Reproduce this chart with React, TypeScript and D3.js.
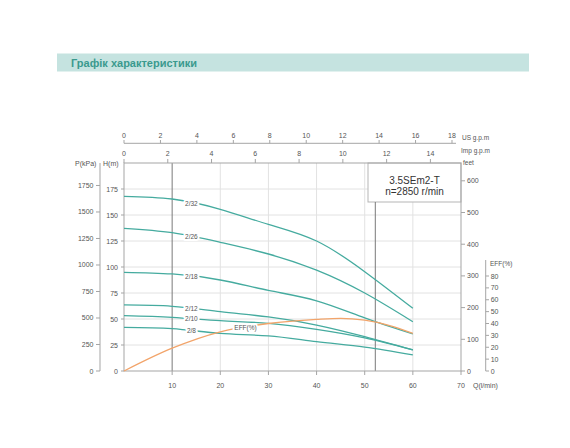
import React from "react";
import * as d3 from "d3";

const Q = [0, 10, 20, 30, 40, 50, 60];
const H_2_32 = [168, 165.4, 155.5, 141, 125, 95.5, 60.3];
const H_2_26 = [137.2, 133, 123.7, 112.5, 97, 75, 47.4];
const H_2_18 = [94.9, 93.3, 87.5, 77.5, 67.5, 51, 35.6];
const H_2_12 = [63.5, 62.2, 57, 52, 44.2, 33, 20.2];
const H_2_10 = [53.2, 51.6, 48.4, 45.8, 40, 31.8, 20.2];
const H_2_8 = [42, 40.7, 36.2, 33.7, 28.2, 23, 15.4];
const SERIES_NAMES = ["2/32", "2/26", "2/18", "2/12", "2/10", "2/8"];
const SERIES = [H_2_32, H_2_26, H_2_18, H_2_12, H_2_10, H_2_8];

const EFF_Q = [0, 10, 20, 30, 40, 45, 50, 55, 60];
const EFF = [0, 19.2, 33, 40, 43.5, 44.4, 42.8, 38.5, 31.7];

const P_TICKS = [0, 250, 500, 750, 1000, 1250, 1500, 1750];
const H_TICKS = [0, 25, 50, 75, 100, 125, 150, 175];
const FEET_TICKS = [0, 100, 200, 300, 400, 500, 600];
const EFF_TICKS = [0, 10, 20, 30, 40, 50, 60, 70, 80];
const Q_TICKS = [10, 20, 30, 40, 50, 60, 70];
const US_TICKS = [0, 2, 4, 6, 8, 10, 12, 14, 16, 18];
const IMP_TICKS = [0, 2, 4, 6, 8, 10, 12, 14];
const OPERATING_RANGE = [10, 52.2];
const LABEL_Q = 14;

const TITLE = "Графік характеристики";
const MODEL = "3.5SEm2-T";
const SPEED = "n=2850 r/min";

const TEAL = "#45ab9f";
const ORANGE = "#f2a46a";
const TXT = "#555";
const FONT = "Liberation Sans, Arial, sans-serif";

export default function App() {
  const left = 124, right = 461, top = 163, bottom = 371;
  const x = d3.scaleLinear().domain([0, 70]).range([left, right]);
  const yH = d3.scaleLinear().domain([0, 200]).range([bottom, top]);
  const yP = d3.scaleLinear().domain([0, 200 * 9.81]).range([bottom, top]);
  const yF = d3.scaleLinear().domain([0, 200 / 0.3048]).range([bottom, top]);
  const yE = d3.scaleLinear().domain([0, 80]).range([bottom, 276]);
  const xUS = d3.scaleLinear().domain([0, 70 / 3.785]).range([left, right]);
  const xImp = d3.scaleLinear().domain([0, 70 / 4.546]).range([left, right]);

  const line = d3
    .line<number>()
    .x((_, i) => x(Q[i]))
    .y((d) => yH(d))
    .curve(d3.curveNatural);
  const effLine = d3
    .line<number>()
    .x((_, i) => x(EFF_Q[i]))
    .y((d) => yE(d))
    .curve(d3.curveMonotoneX);

  const interp = (arr: number[], q: number) => {
    const i = d3.bisectRight(Q, q) - 1;
    const t = (q - Q[i]) / (Q[i + 1] - Q[i]);
    return arr[i] + (arr[i + 1] - arr[i]) * t;
  };

  const halo = { paintOrder: "stroke", stroke: "#fff", strokeWidth: 4, strokeLinejoin: "round" } as any;

  return (
    <svg width={570} height={448} style={{ position: "absolute", left: 0, top: 0, background: "#fff" }} fontFamily={FONT}>
      {/* title */}
      <rect x={57} y={53.5} width={472} height={18} fill="#c5e3e0" />
      <text x={71} y={66.5} fontSize={11} fontWeight="bold" fill="#3a9a8e">{TITLE}</text>

      {/* grid */}
      {H_TICKS.filter((t) => t > 0).map((t) => (
        <line key={"hg" + t} x1={left} x2={right} y1={yH(t)} y2={yH(t)} stroke="#e2e2e2" />
      ))}
      {[20, 30, 40, 50, 60].map((t) => (
        <line key={"vg" + t} x1={x(t)} x2={x(t)} y1={top} y2={bottom} stroke="#e2e2e2" />
      ))}

      {/* legend box */}
      <rect x={368} y={top} width={right - 368} height={39} fill="#fff" stroke="#b5b5b5" />
      <text x={414.5} y={183.5} fontSize={10} fill="#333" textAnchor="middle">{MODEL}</text>
      <text x={414.5} y={195} fontSize={10} fill="#333" textAnchor="middle">{SPEED}</text>

      {/* operating range lines */}
      <line x1={x(OPERATING_RANGE[0])} x2={x(OPERATING_RANGE[0])} y1={top} y2={bottom} stroke="#7a7a7a" />
      <line x1={x(OPERATING_RANGE[1])} x2={x(OPERATING_RANGE[1])} y1={202} y2={bottom} stroke="#7a7a7a" />

      {/* plot border */}
      <rect x={left} y={top} width={right - left} height={bottom - top} fill="none" stroke="#a5a5a5" />

      {/* curves */}
      {SERIES.map((s, i) => (
        <path key={"c" + i} d={line(s) || ""} fill="none" stroke={TEAL} strokeWidth={1.3} />
      ))}
      <path d={effLine(EFF) || ""} fill="none" stroke={ORANGE} strokeWidth={1.3} />

      {SERIES.map((s, i) => (
        <text key={"l" + i} x={x(LABEL_Q)} y={yH(interp(s, LABEL_Q)) + 2.5} fontSize={6.5} fill={TXT} textAnchor="middle" style={halo}>
          {SERIES_NAMES[i]}
        </text>
      ))}
      <text x={245.5} y={330} fontSize={6.5} fill={TXT} textAnchor="middle" style={halo}>EFF(%)</text>

      {/* P axis */}
      <line x1={100} x2={100} y1={top} y2={bottom} stroke="#a5a5a5" />
      {P_TICKS.map((t) => (
        <g key={"p" + t}>
          <line x1={96} x2={100} y1={yP(t)} y2={yP(t)} stroke="#a5a5a5" />
          <text x={93.5} y={yP(t) + 2.5} fontSize={7} fill={TXT} textAnchor="end">{t}</text>
        </g>
      ))}
      <text x={75} y={165.5} fontSize={7} fill={TXT}>P(kPa)</text>
      <text x={103} y={165.5} fontSize={7} fill={TXT}>H(m)</text>

      {/* H axis */}
      {H_TICKS.map((t) => (
        <g key={"h" + t}>
          <line x1={left - 3} x2={left} y1={yH(t)} y2={yH(t)} stroke="#a5a5a5" />
          <text x={118} y={yH(t) + 2.5} fontSize={7} fill={TXT} textAnchor="end">{t}</text>
        </g>
      ))}

      {/* Q axis */}
      {Q_TICKS.map((t) => (
        <g key={"q" + t}>
          <line x1={x(t)} x2={x(t)} y1={bottom} y2={bottom + 4} stroke="#a5a5a5" />
          <text x={x(t)} y={387.5} fontSize={7} fill={TXT} textAnchor="middle">{t}</text>
        </g>
      ))}
      <text x={473} y={387.5} fontSize={7} fill={TXT}>Q(l/min)</text>

      {/* feet axis */}
      {FEET_TICKS.map((t) => (
        <g key={"f" + t}>
          <line x1={right} x2={right + 4} y1={yF(t)} y2={yF(t)} stroke="#a5a5a5" />
          <text x={467} y={yF(t) + 2.5} fontSize={7} fill={TXT}>{t}</text>
        </g>
      ))}
      <text x={463} y={165} fontSize={6.5} fill={TXT}>feet</text>

      {/* EFF axis */}
      <line x1={485.7} x2={485.7} y1={260} y2={bottom} stroke="#a5a5a5" />
      {EFF_TICKS.map((t) => (
        <g key={"e" + t}>
          <line x1={485.7} x2={489} y1={yE(t)} y2={yE(t)} stroke="#a5a5a5" />
          <text x={490.7} y={yE(t) + 2.5} fontSize={7} fill={TXT}>{t}</text>
        </g>
      ))}
      <text x={490} y={266} fontSize={6.5} fill={TXT}>EFF(%)</text>

      {/* US gpm axis */}
      <line x1={left} x2={456} y1={143.3} y2={143.3} stroke="#a5a5a5" />
      {US_TICKS.map((t) => (
        <g key={"us" + t}>
          <line x1={xUS(t)} x2={xUS(t)} y1={140} y2={143.3} stroke="#a5a5a5" />
          <text x={xUS(t)} y={137.5} fontSize={7} fill={TXT} textAnchor="middle">{t}</text>
        </g>
      ))}
      <text x={462} y={140} fontSize={6.5} fill={TXT}>US  g.p.m</text>

      {/* Imp gpm axis */}
      {IMP_TICKS.map((t) => (
        <g key={"imp" + t}>
          <line x1={xImp(t)} x2={xImp(t)} y1={159} y2={top} stroke="#a5a5a5" />
          <text x={xImp(t)} y={155.8} fontSize={7} fill={TXT} textAnchor="middle">{t}</text>
        </g>
      ))}
      <text x={461} y={152.5} fontSize={6.5} fill={TXT}>Imp  g.p.m</text>
    </svg>
  );
}
